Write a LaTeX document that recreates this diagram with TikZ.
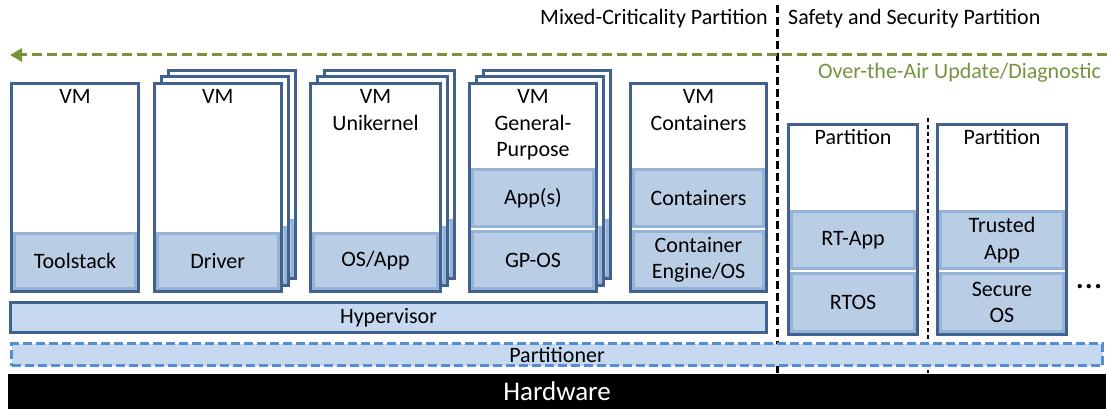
\documentclass[tikz,border=0pt]{standalone}
\usepackage{fontspec}
\setmainfont{Carlito}
\usetikzlibrary{arrows.meta}

\definecolor{frameblue}{HTML}{41618F}
\definecolor{layerfill}{HTML}{B9CDE5}
\definecolor{layerline}{HTML}{95B3D7}
\definecolor{basefill}{HTML}{C6D9F1}
\definecolor{dashblue}{HTML}{558ED5}
\definecolor{otagreen}{HTML}{77933C}

\newcommand\lblfont{\fontsize{22}{26.5}\selectfont}

\tikzset{
  card/.style={draw=frameblue, line width=3pt, fill=white, inner sep=0pt},
  layer/.style={draw=layerline, line width=3pt, fill=layerfill, inner sep=0pt,
                align=center, font=\lblfont},
  cardtitle/.style={inner sep=0pt, align=center, anchor=base, font=\lblfont},
  hyperbar/.style={draw=frameblue, line width=3pt, fill=basefill, inner sep=0pt, font=\lblfont},
  partbar/.style={draw=dashblue, line width=3pt, fill=basefill, inner sep=0pt,
                  dash pattern=on 9pt off 4pt, font=\lblfont},
  hwbar/.style={fill=black, inner sep=0pt, text=white, font=\fontsize{27}{32}\selectfont},
  otaline/.style={draw=otagreen, line width=3pt, dash pattern=on 10pt off 5pt,
                  -{Triangle[length=12pt,width=13pt]}},
  zoneline/.style={draw=black, line width=3pt, dash pattern=on 8pt off 4pt},
  subline/.style={draw=black, line width=1.5pt, dash pattern=on 4pt off 3pt},
}

% rectangle node from two corners: style, name, x1, y1, x2, y2, text
\newcommand\rectnode[7]{%
  \node[#1, minimum width={(#5)-(#3)}, minimum height={(#6)-(#4)}]
    (#2) at ({((#3)+(#5))/2},{((#4)+(#6))/2}) {#7};}

% two cards stacked behind a front card: name, x1, y1, x2, y2 of the front card
\newcommand\cardstack[5]{%
  \foreach \k in {2,1}{%
    \begin{scope}[shift={(7*\k,-6.5*\k)}]
      \rectnode{card}{#1-\k}{#2}{#3}{#4}{#5}{}
      \rectnode{layer}{#1-\k l}{#2+3}{233.5}{#4-3}{#5-3}{}
    \end{scope}}}

\begin{document}
\begin{tikzpicture}[x=1pt,y=-1pt]
\useasboundingbox (0,0) rectangle (1107,409);

% zone headings and separators
\node[cardtitle, anchor=base east] (mixed) at (768,25) {Mixed-Criticality Partition};
\node[cardtitle, anchor=base west] (safety) at (788,25) {Safety and Security Partition};
\coordinate (zoneT) at (777.5,5);
\coordinate (zoneB) at (777.5,373);
\draw[zoneline] (zoneT) -- (zoneB);
\coordinate (subT) at (928,118);
\coordinate (subB) at (928,373);
\draw[subline] (subT) -- (subB);

% over-the-air channel
\coordinate (otaR) at (1107,55);
\coordinate (otaL) at (10,55);
\draw[otaline] (otaR) -- (otaL);
\node[cardtitle, anchor=base east, text=otagreen] (otalabel) at (1101,79) {Over-the-Air Update/Diagnostic};

% VM with toolstack
\rectnode{card}{vm1}{11.5}{83.5}{138.5}{291.5}{}
\rectnode{layer}{tool}{14.5}{233.5}{135.5}{288.5}{Toolstack}
\node[cardtitle] (vm1t) at ([yshift=-21.5pt]vm1.north) {VM};

% driver VMs
\cardstack{vm2}{154}{83.5}{281.5}{291.5}
\rectnode{card}{vm2}{154}{83.5}{281.5}{291.5}{}
\rectnode{layer}{drv}{157}{233.5}{278.5}{288.5}{Driver}
\node[cardtitle] (vm2t) at ([yshift=-21.5pt]vm2.north) {VM};

% unikernel VMs
\cardstack{vm3}{310.5}{83.5}{440.5}{291.5}
\rectnode{card}{vm3}{310.5}{83.5}{440.5}{291.5}{}
\rectnode{layer}{osapp}{313.5}{233.5}{437.5}{288.5}{OS/App}
\node[cardtitle] (vm3t) at ([yshift=-48pt]vm3.north) {VM\\Unikernel};

% general-purpose VMs
\cardstack{vm4}{469.5}{83.5}{596.5}{291.5}
\rectnode{card}{vm4}{469.5}{83.5}{596.5}{291.5}{}
\rectnode{layer}{apps}{472.5}{169.5}{593.5}{226.5}{App(s)}
\rectnode{layer}{gpos}{472.5}{231.5}{593.5}{288.5}{GP-OS}
\node[cardtitle] (vm4t) at ([yshift=-74.5pt]vm4.north) {VM\\General-\\Purpose};

% container VM
\rectnode{card}{vm5}{630.5}{84}{766.5}{291.5}{}
\rectnode{layer}{cont}{633.5}{169.5}{763.5}{226.5}{Containers}
\rectnode{layer}{engine}{633.5}{231.5}{763.5}{288.5}{Container\\Engine/OS}
\node[cardtitle] (vm5t) at ([yshift=-48pt]vm5.north) {VM\\Containers};

% hypervisor
\rectnode{hyperbar}{hyp}{10.5}{302.5}{766.5}{332.5}{Hypervisor}

% safety and security partitions
\rectnode{card}{p1}{788.5}{124.5}{917.5}{334.5}{}
\rectnode{layer}{rtapp}{791.5}{211.5}{914.5}{268.5}{RT-App}
\rectnode{layer}{rtos}{791.5}{273.5}{914.5}{331.5}{RTOS}
\node[cardtitle] (p1t) at ([yshift=-21.5pt]p1.north) {Partition};

\rectnode{card}{p2}{937.5}{124.5}{1066.5}{334.5}{}
\rectnode{layer}{tapp}{940.5}{211.5}{1063.5}{268.5}{Trusted\\App}
\rectnode{layer}{sos}{940.5}{273.5}{1063.5}{331.5}{Secure\\OS}
\node[cardtitle] (p2t) at ([yshift=-21.5pt]p2.north) {Partition};

\node[inner sep=0pt, anchor=base, font=\fontsize{36}{40}\selectfont] (more) at (1089,288) {...};

% partitioner and hardware
\rectnode{partbar}{parter}{11.5}{343.5}{1102.5}{365.5}{Partitioner}
\rectnode{hwbar}{hw}{8}{374}{1106}{409}{Hardware}

\end{tikzpicture}
\end{document}
